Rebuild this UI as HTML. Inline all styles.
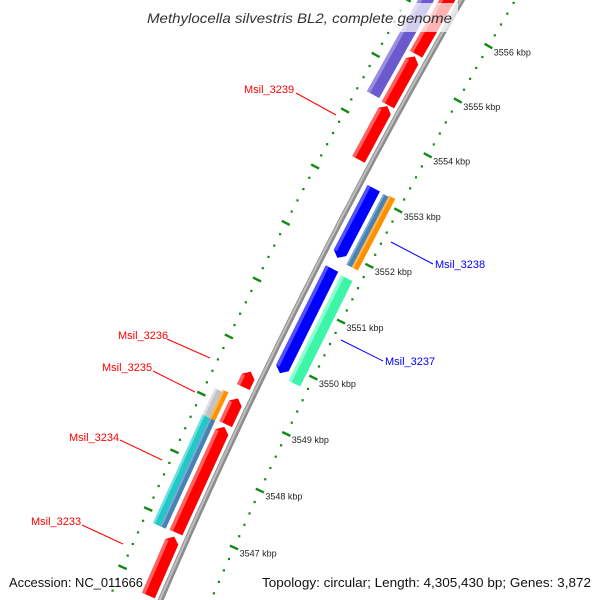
<!DOCTYPE html>
<html><head><meta charset="utf-8"><style>
html,body{margin:0;padding:0;background:#fff;width:600px;height:600px;overflow:hidden;}
svg{display:block;font-family:"Liberation Sans",sans-serif;overflow:hidden;}
</style></head><body>
<svg id="map" width="600" height="600" viewBox="0 0 600 600" xmlns="http://www.w3.org/2000/svg">
<rect x="0" y="0" width="600" height="600" fill="#fff"/>
<g id="rings"></g>
<g id="genes"></g>
<g id="backbone"></g>
<g id="ticklabels"></g>
<g font-size="11">
  <line x1="296" y1="93" x2="336" y2="115" stroke="#f00" stroke-width="1"/>
  <text x="244" y="93" fill="#f00">Msil_3239</text>
  <line x1="391" y1="242" x2="433" y2="264" stroke="#00f" stroke-width="1"/>
  <text x="435" y="268" fill="#00f">Msil_3238</text>
  <line x1="341" y1="340" x2="383" y2="361" stroke="#00f" stroke-width="1"/>
  <text x="385" y="365" fill="#00f">Msil_3237</text>
  <line x1="167" y1="339" x2="210" y2="358" stroke="#f00" stroke-width="1"/>
  <text x="118" y="339" fill="#f00">Msil_3236</text>
  <line x1="153" y1="371" x2="195" y2="392" stroke="#f00" stroke-width="1"/>
  <text x="102" y="371" fill="#f00">Msil_3235</text>
  <line x1="120" y1="440" x2="162" y2="460" stroke="#f00" stroke-width="1"/>
  <text x="69" y="441" fill="#f00">Msil_3234</text>
  <line x1="82" y1="525" x2="123" y2="544" stroke="#f00" stroke-width="1"/>
  <text x="31" y="525" fill="#f00">Msil_3233</text>
</g>
<rect x="140" y="3" width="318" height="29" fill="#fff" fill-opacity="0.7"/>
<text x="147" y="23" font-size="14" font-style="italic" fill="#333" textLength="305" lengthAdjust="spacingAndGlyphs">Methylocella silvestris BL2, complete genome</text>
<text x="9" y="587" font-size="13" fill="#111" textLength="134" lengthAdjust="spacingAndGlyphs">Accession: NC_011666</text>
<text x="262" y="587" font-size="13" fill="#111" textLength="329" lengthAdjust="spacingAndGlyphs">Topology: circular; Length: 4,305,430 bp; Genes: 3,872</text>
</svg>
<script>
// ---- data ----
const geneStarts = [3545.75, 3546.84, 3548.73, 3549.38, 3546.83, 3546.83, 3548.71, 3548.71, 3553.42, 3554.40, 3555.32, 3554.43, 3549.83, 3551.88, 3549.78, 3551.85, 3551.85];
const geneEnds   = [3546.77, 3548.68, 3549.18, 3549.65, 3548.71, 3548.71, 3549.17, 3549.20, 3554.38, 3555.28, 3557.50, 3556.20, 3551.69, 3553.13, 3551.66, 3553.12, 3553.14];
const geneStrands= [1, 1, 1, 1, 0, 0, 0, 0, 1, 1, 1, 0, -1, -1, 0, 0, 0];
const geneLanes  = ["L1","L1","L1","L1","L2o","L2i","L2o","L2i","L1","L1","L1","L2","R1","R1","R2","R2i","R2o"];
const geneColors = ["#ff0000","#ff0000","#ff0000","#ff0000","#22c8c8","#4682b4","#c4c4c4","#ff9000","#ff0000","#ff0000","#ff0000","#6a5acd","#0000ff","#0000ff","#3cf5a8","#4682b4","#ff9000"];
const geneLights = ["#ff6060","#ff6060","#ff6060","#ff6060","#6ee0e0","#7aa8d0","#e0e0e0","#ffb650","#ff6060","#ff6060","#ff6060","#9a8ee0","#5050ff","#5050ff","#8dffd0","#7aa8d0","#ffb650"];
const geneNames  = ["msil-3233","msil-3233b","msil-3235","msil-3236","msil-3234","msil-3234-overlap","gene-gray","gene-orange-left","msil-3239","gene-red-upper","gene-red-top","gene-purple","gene-blue-lower","gene-blue-upper","msil-3237","msil-3238-inner","msil-3238"];
const majorTicks = [3545,3546,3547,3548,3549,3550,3551,3552,3553,3554,3555,3556,3557,3558];
const tickLabels = ["3545 kbp","3546 kbp","3547 kbp","3548 kbp","3549 kbp","3550 kbp","3551 kbp","3552 kbp","3553 kbp","3554 kbp","3555 kbp","3556 kbp","3557 kbp","3558 kbp"];
const minorStep = 0.2;

// ---- axis (circular map) ----
const Cx=5486, Cy=2898, R=5800, TH0=-2.67733, K0=3551, SC=0.010862;
function P(k,r){const t=TH0+(k-K0)*SC;return [Cx+(R+r)*Math.cos(t),Cy+(R+r)*Math.sin(t)];}
const lanes={L1:[6,20],L2:[24,38],L2o:[30,38],L2i:[24,30],R1:[-21,-7],R2:[-38,-25],R2i:[-31,-25],R2o:[-38,-31]};
const NS="http://www.w3.org/2000/svg";
function pts(a){return a.map(p=>p[0].toFixed(1)+","+p[1].toFixed(1)).join(" ");}

// backbone
const bb=document.getElementById("backbone");
function arc(r,k1,k2){let a=[];for(let k=k1;k<=k2+1e-9;k+=0.1)a.push(P(k,r));return a;}
[[0,5.5,"#8c8c8c"],[0.8,2.2,"#bdbdbd"]].forEach((s,i)=>{
  const pl=document.createElementNS(NS,"polyline");
  
  
  pl.setAttribute("points",pts(arc(s[0],3545.3,3557.4)));
  pl.setAttribute("fill","none");pl.setAttribute("stroke",s[2]);pl.setAttribute("stroke-width",s[1]);
  bb.appendChild(pl);
});

// rings
const rings=document.getElementById("rings");
[-46,48].forEach(rr=>{
  for(let k=3545;k<=3558.001;k+=minorStep){
    const kk=Math.round(k*10)/10;
    if(Math.abs(kk-Math.round(kk))<1e-6)continue;
    const p=P(kk,rr);
    if(p[0]<0||p[0]>598||p[1]<0||p[1]>598)continue;
    const d=document.createElementNS(NS,"rect");
    
    
    d.setAttribute("x",(p[0]-1).toFixed(1));d.setAttribute("y",(p[1]-1).toFixed(1));
    d.setAttribute("width","2.2");d.setAttribute("height","2.2");d.setAttribute("fill","#138a13");
    rings.appendChild(d);
  }
  majorTicks.forEach(k=>{
    const a=P(k,rr-4.5),b=P(k,rr+4.5);
    if(a[1]<0||a[1]>598)return;
    const l=document.createElementNS(NS,"line");
    
    
    l.setAttribute("x1",a[0]);l.setAttribute("y1",a[1]);l.setAttribute("x2",b[0]);l.setAttribute("y2",b[1]);
    l.setAttribute("stroke","#138a13");l.setAttribute("stroke-width","2.4");
    rings.appendChild(l);
  });
});
const tl=document.getElementById("ticklabels");
majorTicks.forEach((k,i)=>{
  const p=P(k,-51);
  if(p[1]<10||p[1]>590)return;
  const t=document.createElementNS(NS,"text");
  
  
  t.setAttribute("x",(p[0]+1).toFixed(1));t.setAttribute("y",(p[1]+7).toFixed(1));
  t.setAttribute("font-size","9");t.setAttribute("fill","#222");
  t.textContent=tickLabels[i];
  tl.appendChild(t);
});

// genes
const gg=document.getElementById("genes");
geneStarts.forEach((s,i)=>{
  const e=geneEnds[i],st=geneStrands[i],ln=lanes[geneLanes[i]];
  const r1=ln[0],r2=ln[1],rm=(r1+r2)/2,h=Math.min(0.09,(e-s)/2);
  let poly;
  if(st===1)poly=[P(s,r1),P(e-h,r1),P(e,rm),P(e-h,r2),P(s,r2)];
  else if(st===-1)poly=[P(s,rm),P(s+h,r1),P(e,r1),P(e,r2),P(s+h,r2)];
  else poly=[P(s,r1),P(e,r1),P(e,r2),P(s,r2)];
  const g=document.createElementNS(NS,"polygon");
  
  
  g.setAttribute("points",pts(poly));g.setAttribute("fill",geneColors[i]);
  gg.appendChild(g);
  const hw=Math.min(3.5,(r2-r1)*0.3);
  const hs=st===-1?s+h:s, he=st===1?e-h:e;
  const hl=document.createElementNS(NS,"polygon");
  
  
  hl.setAttribute("points",pts([P(hs,r2-hw),P(he,r2-hw),P(he,r2),P(hs,r2)]));
  hl.setAttribute("fill",geneLights[i]);
  gg.appendChild(hl);
});
</script>
</body></html>
